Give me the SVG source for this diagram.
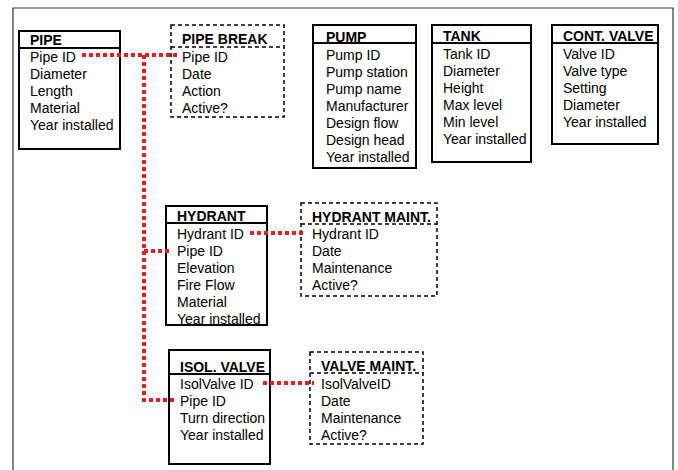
<svg xmlns="http://www.w3.org/2000/svg" width="678" height="470" viewBox="0 0 678 470">
<style>
text{font-family:"Liberation Sans",Arial,sans-serif;font-size:14px;fill:#000}
.t{font-weight:bold}
.box{fill:#fff;stroke:#000;stroke-width:2}
.dbox{fill:#fff;stroke:#000;stroke-width:1.5;stroke-dasharray:4 3}
.hl{stroke:#000;stroke-width:2}
.dhl{stroke:#000;stroke-width:1.5;stroke-dasharray:4 3}
.rel{fill:none;stroke:#e31e24;stroke-width:4;stroke-dasharray:4 3}
</style>
<rect width="678" height="470" fill="#fff"/>
<path d="M13,470 V8 H673 V470" fill="none" stroke="#333" stroke-width="1.2"/>
<g id="pipe">
<rect class="box" x="19" y="31" width="101" height="118"/>
<line class="hl" x1="19" y1="48" x2="120" y2="48"/>
<text class="t" x="30" y="45">PIPE</text>
<text x="30" y="62">Pipe ID</text>
<text x="30" y="79">Diameter</text>
<text x="30" y="96">Length</text>
<text x="30" y="113">Material</text>
<text x="30" y="130">Year installed</text>
</g>
<g id="pipe-break">
<rect class="dbox" x="171" y="25" width="113" height="92"/>
<line class="dhl" x1="171" y1="47" x2="284" y2="47"/>
<text class="t" x="182" y="44">PIPE BREAK</text>
<text x="182" y="62">Pipe ID</text>
<text x="182" y="79">Date</text>
<text x="182" y="96">Action</text>
<text x="182" y="113">Active?</text>
</g>
<g id="pump">
<rect class="box" x="313" y="25" width="103" height="143"/>
<line class="hl" x1="313" y1="43" x2="416" y2="43"/>
<text class="t" x="326" y="42">PUMP</text>
<text x="326" y="60">Pump ID</text>
<text x="326" y="77">Pump station</text>
<text x="326" y="94">Pump name</text>
<text x="326" y="111">Manufacturer</text>
<text x="326" y="128">Design flow</text>
<text x="326" y="145">Design head</text>
<text x="326" y="162">Year installed</text>
</g>
<g id="tank">
<rect class="box" x="432" y="25" width="99" height="137"/>
<line class="hl" x1="432" y1="43" x2="531" y2="43"/>
<text class="t" x="443" y="41">TANK</text>
<text x="443" y="59">Tank ID</text>
<text x="443" y="76">Diameter</text>
<text x="443" y="93">Height</text>
<text x="443" y="110">Max level</text>
<text x="443" y="127">Min level</text>
<text x="443" y="144">Year installed</text>
</g>
<g id="cont-valve">
<rect class="box" x="552" y="25" width="106" height="119"/>
<line class="hl" x1="552" y1="43" x2="658" y2="43"/>
<text class="t" x="563" y="41">CONT. VALVE</text>
<text x="563" y="59">Valve ID</text>
<text x="563" y="76">Valve type</text>
<text x="563" y="93">Setting</text>
<text x="563" y="110">Diameter</text>
<text x="563" y="127">Year installed</text>
</g>
<g id="hydrant">
<rect class="box" x="166" y="206" width="101" height="119"/>
<line class="hl" x1="166" y1="223" x2="267" y2="223"/>
<text class="t" x="177" y="221">HYDRANT</text>
<text x="177" y="239">Hydrant ID</text>
<text x="177" y="256">Pipe ID</text>
<text x="177" y="273">Elevation</text>
<text x="177" y="290">Fire Flow</text>
<text x="177" y="307">Material</text>
<text x="177" y="324">Year installed</text>
</g>
<g id="hydrant-maint">
<rect class="dbox" x="301" y="203" width="136" height="93"/>
<line class="dhl" x1="301" y1="224" x2="437" y2="224"/>
<text class="t" x="312" y="222">HYDRANT MAINT.</text>
<text x="312" y="239">Hydrant ID</text>
<text x="312" y="256">Date</text>
<text x="312" y="273">Maintenance</text>
<text x="312" y="290">Active?</text>
</g>
<g id="isol-valve">
<rect class="box" x="169" y="350" width="101" height="114"/>
<line class="hl" x1="169" y1="374" x2="270" y2="374"/>
<text class="t" x="180" y="372">ISOL. VALVE</text>
<text x="180" y="389">IsolValve ID</text>
<text x="180" y="406">Pipe ID</text>
<text x="180" y="423">Turn direction</text>
<text x="180" y="440">Year installed</text>
</g>
<g id="valve-maint">
<rect class="dbox" x="310" y="352" width="113" height="92"/>
<line class="dhl" x1="310" y1="373" x2="423" y2="373"/>
<text class="t" x="321" y="371">VALVE MAINT.</text>
<text x="321" y="389">IsolValveID</text>
<text x="321" y="406">Date</text>
<text x="321" y="423">Maintenance</text>
<text x="321" y="440">Active?</text>
</g>
<g id="connectors">
<path class="rel" d="M82,55 H177"/>
<path class="rel" d="M144,55 V400 H175"/>
<path class="rel" d="M144,251 H170"/>
<path class="rel" d="M250,233 H306"/>
<path class="rel" d="M263,383 H314"/>
</g>
</svg>
